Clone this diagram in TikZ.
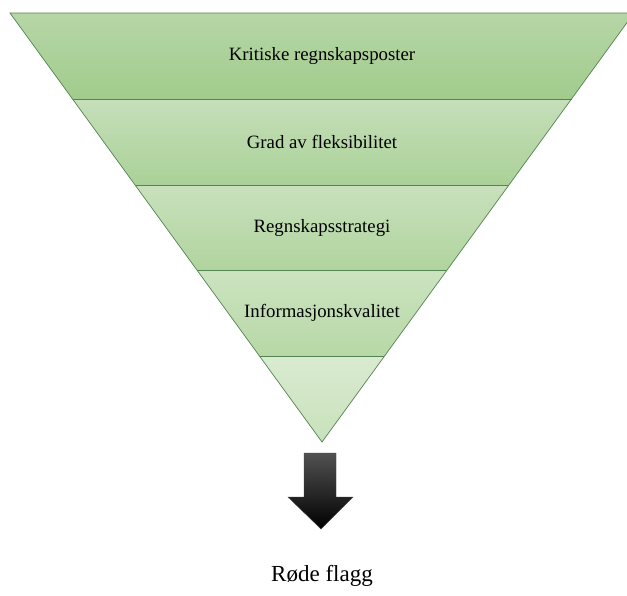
\documentclass[tikz,border=0pt]{standalone}
\usepackage{fontspec}
\setmainfont{Liberation Serif}
\begin{document}
\begin{tikzpicture}[x=1pt,y=-1pt,
  bandline/.style={draw=black!45!green!35!gray, line width=0.7pt},
  bandtext/.style={font=\fontsize{18.8}{20}\selectfont, text=black},
  flagtext/.style={font=\fontsize{23}{26}\selectfont, text=black}]
  \useasboundingbox (0,0) rectangle (627,595);
  \fill[white] (0,0) rectangle (627,595);
  \begin{scope}
    \clip (0,0) rectangle (627,595);
    % funnel corners and band boundaries (left / right edge at each level)
    \coordinate (t0l) at (10,13);    \coordinate (t0r) at (634,13);
    \coordinate (t1l) at (72.5,99);  \coordinate (t1r) at (571.5,99);
    \coordinate (t2l) at (135.1,185);\coordinate (t2r) at (508.9,185);
    \coordinate (t3l) at (197.4,270.6);\coordinate (t3r) at (446.6,270.6);
    \coordinate (t4l) at (259.8,356.4);\coordinate (t4r) at (384.2,356.4);
    \coordinate (apex) at (322,442);
    % band fills, lighter towards the tip
    \shade[top color={rgb,255:red,182;green,214;blue,166}, bottom color={rgb,255:red,161;green,204;blue,141}]
      (t0l) -- (t0r) -- (t1r) -- (t1l) -- cycle;
    \shade[top color={rgb,255:red,198;green,223;blue,186}, bottom color={rgb,255:red,170;green,209;blue,151}]
      (t1l) -- (t1r) -- (t2r) -- (t2l) -- cycle;
    \shade[top color={rgb,255:red,201;green,225;blue,189}, bottom color={rgb,255:red,176;green,212;blue,158}]
      (t2l) -- (t2r) -- (t3r) -- (t3l) -- cycle;
    \shade[top color={rgb,255:red,204;green,227;blue,192}, bottom color={rgb,255:red,183;green,216;blue,166}]
      (t3l) -- (t3r) -- (t4r) -- (t4l) -- cycle;
    \shade[top color={rgb,255:red,218;green,235;blue,208}, bottom color={rgb,255:red,200;green,225;blue,187}]
      (t4l) -- (t4r) -- (apex) -- cycle;
    % outlines
    \path[bandline] (t0l) -- (t0r) -- (apex) -- cycle;
    \path[bandline] (t1l) -- (t1r) (t2l) -- (t2r) (t3l) -- (t3r) (t4l) -- (t4r);
  \end{scope}
  % band labels
  \node[bandtext] (b1) at (322,56) {Kritiske regnskapsposter};
  \node[bandtext] (b2) at (322,142) {Grad av fleksibilitet};
  \node[bandtext] (b3) at (322,228) {Regnskapsstrategi};
  \node[bandtext] (b4) at (322,313) {Informasjonskvalitet};
  % block arrow below the funnel
  \shade[top color=black!68, middle color=black, bottom color=black, draw=black!75, line width=0.4pt]
    (304,453) -- (336,453) -- (336,497) -- (353,497) -- (321,529)
    -- (288,497) -- (304,497) -- cycle;
  \node[flagtext] (flag) at (322,576) {Røde flagg};
\end{tikzpicture}
\end{document}
